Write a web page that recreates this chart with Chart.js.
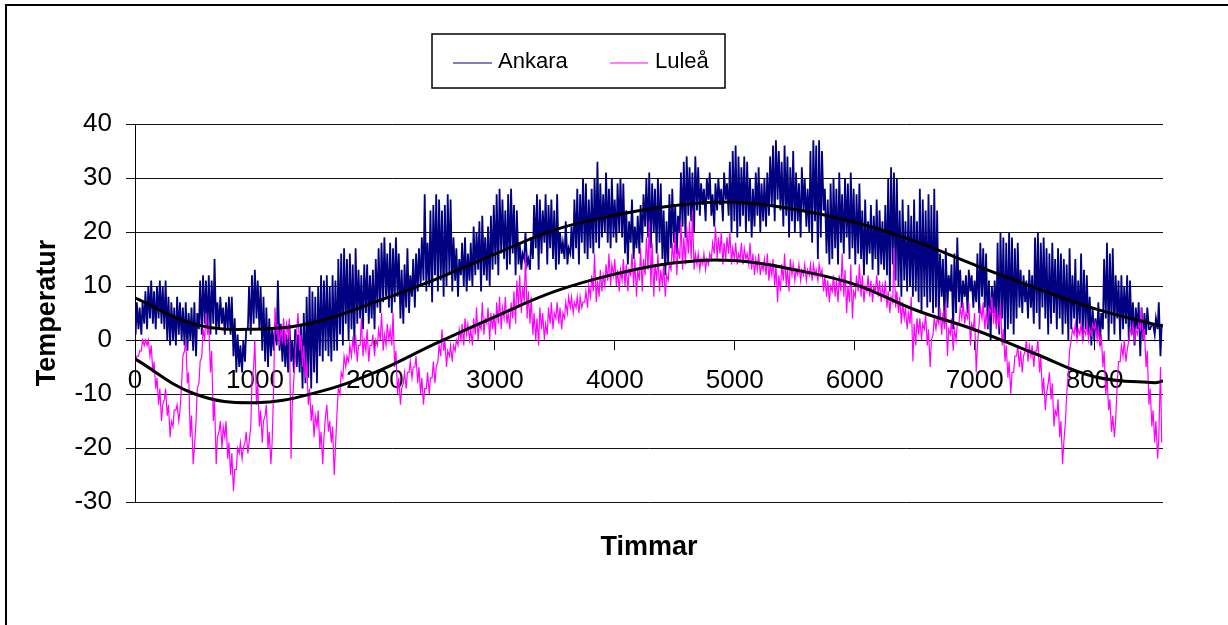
<!DOCTYPE html>
<html>
<head>
<meta charset="utf-8">
<title>Temperatur Ankara och Luleå</title>
<script src="https://cdn.jsdelivr.net/npm/chart.js@4.4.1/dist/chart.umd.min.js"></script>
<style>
  html, body { margin: 0; padding: 0; background: #fff; }
  #wrap { width: 1228px; height: 625px; }
</style>
</head>
<body>
<div id="wrap"><canvas id="tempChart" width="1228" height="625"></canvas></div>
<script>
// one night value (05:00) and one day value (15:00) per day, deg C
var ankaraNight = [
  1, 2, 1, 3, 2, 4, 3, 2, 4, 3,
  2, 0, -1, 0, -1, 1, 0, -1, -2, 0,
  -2, -3, 2, 1, 3, 2, 1, 3, 1, 2,
  3, 1, 2, 1, -3, -6, -5, -6, -4, 2,
  1, 3, 4, 2, -2, -4, -5, -3, -2, -1,
  -2, -4, -5, -6, -4, -6, -5, -6, -9, -8,
  -7, -9, -6, -8, -3, -4, -2, -3, -4, -2,
  -2, 1, -1, 3, 0, 2, -1, 3, 4, 2,
  5, 3, 4, 2, 6, 5, 7, 8, 6, 5,
  7, 8, 4, 3, 6, 5, 8, 6, 9, 10,
  11, 9, 10, 7, 12, 9, 11, 8, 10, 12,
  9, 11, 8, 12, 10, 9, 11, 10, 12, 13,
  9, 12, 11, 10, 13, 14, 12, 16, 15, 13,
  14, 16, 12, 14, 13, 15, 14, 13, 15, 17,
  13, 16, 18, 14, 17, 15, 13, 14, 16, 15,
  14, 16, 15, 17, 14, 18, 16, 15, 17, 16,
  18, 17, 19, 20, 18, 17, 19, 18, 20, 19,
  16, 14, 18, 15, 17, 16, 18, 21, 19, 17,
  20, 16, 18, 15, 12, 14, 17, 18, 16, 20,
  21, 19, 23, 22, 20, 24, 23, 25, 22, 26,
  23, 21, 24, 25, 22, 26, 23, 20, 22, 19,
  21, 23, 20, 22, 19, 21, 23, 20, 22, 21,
  23, 25, 22, 26, 24, 21, 23, 19, 22, 20,
  22, 19, 24, 21, 20, 18, 22, 15, 19, 24,
  16, 14, 15, 17, 14, 18, 16, 19, 15, 17,
  14, 16, 15, 12, 14, 16, 13, 15, 12, 14,
  13, 12, 9, 14, 11, 10, 8, 11, 9, 10,
  8, 9, 7, 5, 8, 6, 7, 5, 6, 4,
  8, 3, 6, 9, 2, 5, 7, 6, 8, 5,
  9, 6, 7, 5, 8, 6, 2, 0, 5, 3,
  1, 4, 0, 2, 3, 1, 4, 6, 5, 7,
  4, 6, 3, 5, 2, 6, 4, 1, 3, 5,
  2, 4, 1, 3, 0, 2, 4, 1, 3, 0,
  2, 1, -1, 0, 1, -1, 2, 4, 0, 3,
  1, 4, 0, 2, 3, 0, 1, -1, 2, -3,
  0, 1, 2, 3, 1, 2, -3
];
var ankaraDay = [
  7, 6, 7, 9, 10, 11, 9, 10, 11, 10,
  11, 8, 7, 6, 8, 7, 6, 7, 5, 6,
  7, 5, 11, 12, 11, 12, 11, 15, 7, 8,
  6, 7, 8, 8, 4, 1, -1, 0, 2, 10,
  12, 13, 11, 10, 8, 6, 4, 2, 3, 11,
  3, 2, 1, 3, 0, 2, 1, 3, 5, 8,
  10, 9, 8, 10, 12, 11, 12, 10, 12, 11,
  15, 16, 17, 15, 16, 14, 17, 13, 12, 14,
  14, 12, 13, 15, 17, 18, 19, 16, 18, 17,
  19, 16, 13, 14, 17, 12, 15, 16, 17, 19,
  27, 18, 24, 25, 27, 26, 24, 25, 27, 26,
  19, 17, 15, 18, 19, 16, 18, 21, 20, 22,
  23, 19, 21, 23, 25, 27, 28, 26, 24, 27,
  28, 25, 24, 18, 16, 20, 15, 19, 25, 27,
  26, 24, 27, 25, 26, 24, 27, 20, 18, 22,
  17, 21, 26, 28, 27, 30, 29, 26, 28, 30,
  33, 29, 27, 31, 28, 30, 26, 29, 30, 29,
  24, 22, 26, 21, 23, 25, 27, 30, 31, 29,
  28, 30, 29, 24, 22, 27, 28, 25, 23, 31,
  33, 34, 32, 31, 34, 32, 29, 28, 30, 31,
  27, 29, 30, 28, 31, 29, 33, 35, 36, 34,
  32, 34, 33, 30, 28, 31, 32, 29, 30, 31,
  34, 36, 37, 35, 33, 36, 34, 32, 35, 31,
  29, 32, 30, 28, 35, 37, 36, 37, 35, 28,
  26, 29, 30, 28, 31, 27, 30, 29, 31, 28,
  27, 29, 24, 26, 22, 25, 23, 26, 24, 22,
  25, 30, 32, 31, 30, 24, 26, 22, 25, 23,
  26, 22, 28, 26, 24, 27, 25, 28, 24, 16,
  15, 17, 12, 14, 16, 19, 13, 11, 12, 13,
  12, 11, 16, 18, 17, 16, 11, 10, 11, 18,
  20, 19, 18, 20, 19, 17, 18, 13, 12, 11,
  13, 12, 19, 20, 18, 19, 17, 16, 18, 15,
  17, 16, 15, 14, 17, 12, 15, 11, 16, 13,
  12, 8, 6, 4, 7, 5, 15, 18, 16, 17,
  12, 11, 12, 10, 12, 11, 7, 6, 7, 6,
  5, 6, 2, 3, 4, 7, 3
];
var luleaNight = [
  -4, -3, -2, -1, -1, -3, -6, -9, -12, -15,
  -11, -14, -18, -16, -13, -15, -8, -2, -8, -18,
  -23, -15, -8, -3, 0, 1, -6, -15, -23, -17,
  -20, -18, -22, -25, -28, -24, -21, -22, -19, -21,
  -16, -5, -12, -16, -19, -14, -20, -23, -8, 1,
  -1, 0, -1, 1, -22, -7, 2, -2, -5, -7,
  -12, -15, -18, -16, -20, -23, -14, -17, -19, -25,
  -13, -10, -7, -5, -4, -3, -2, -4, -1, -3,
  -2, -4, -1, -3, -1, 0, -2, -1, 0, -1,
  -5, -10, -12, -8, -9, -6, -7, -5, -8, -10,
  -12, -9, -10, -7, -8, -4, -3, -2, -5, -3,
  -4, -2, -1, 0, -1, 1, 0, -1, 1, 0,
  2, 1, 3, 0, 2, 1, 3, 2, 4, 3,
  2, 4, 3, 6, 5, 7, 4, 3, 1, 0,
  -1, 2, 0, 1, 3, 2, 4, 3, 2, 4,
  5, 6, 5, 6, 5, 6, 7, 6, 8, 9,
  7, 8, 9, 10, 11, 10, 12, 10, 9, 11,
  10, 9, 12, 10, 8, 11, 9, 12, 13, 10,
  8, 11, 9, 10, 8, 11, 13, 14, 12, 15,
  13, 14, 16, 15, 13, 14, 13, 14, 13, 14,
  15, 16, 15, 16, 14, 15, 16, 14, 15, 14,
  15, 14, 15, 14, 13, 12, 13, 12, 13, 12,
  11, 12, 10, 7, 9, 11, 10, 9, 12, 11,
  12, 11, 12, 11, 12, 11, 12, 11, 12, 9,
  8, 7, 9, 8, 7, 9, 8, 5, 7, 4,
  8, 9, 8, 7, 9, 8, 7, 9, 8, 7,
  8, 6, 5, 7, 6, 5, 3, 4, 2, 3,
  -4, -1, 1, 0, 2, -1, -5, 1, 2, 3,
  1, 2, -3, 1, -2, 0, 3, 4, 3, 4,
  -1, 2, -6, 3, 4, 2, 3, 5, 3, 2,
  3, -1, -4, -7, -10, -6, -3, -5, -6, -2,
  -4, -3, -5, -2, -6, -10, -13, -8, -11, -16,
  -14, -18, -23, -15, -6, 0, 1, 0, 1, 0,
  1, 0, 1, 2, 0, -1, -5, -10, -13, -17,
  -18, -8, -4, -3, -4, 0, 1, 0, 1, 2,
  0, -5, -12, -16, -19, -22, -5
];
var luleaDay = [
  -3, -2, 0, 0, 0, -1, -4, -7, -9, -12,
  -9, -12, -15, -13, -12, -13, -3, 0, -6, -14,
  -20, -9, -4, 2, 5, 3, -2, -11, -18, -15,
  -16, -15, -19, -21, -24, -20, -19, -20, -17, -19,
  -8, 0, -8, -13, -15, -12, -17, -19, 6, 3,
  2, 4, 3, 4, -12, -3, 5, 1, -1, -4,
  -9, -12, -14, -13, -17, -18, -12, -15, -16, -20,
  -9, -6, -3, -3, -1, 0, 1, -1, 4, 0,
  2, -1, 1, 0, 2, 5, 1, 3, 2, 5,
  -2, -7, -9, -6, -6, -4, -5, -3, -5, -7,
  -9, -6, -7, -4, -5, -1, 2, 0, -2, -1,
  -1, 0, 2, 3, 4, 3, 2, 4, 6, 3,
  7, 4, 6, 5, 5, 7, 8, 6, 8, 5,
  7, 9, 11, 12, 10, 16, 9, 8, 5, 4,
  6, 5, 3, 6, 7, 5, 7, 6, 5, 7,
  8, 8, 7, 8, 8, 7, 9, 10, 12, 16,
  11, 13, 12, 14, 16, 14, 15, 13, 13, 15,
  14, 13, 16, 15, 13, 17, 15, 19, 22, 18,
  14, 16, 13, 14, 12, 14, 18, 20, 17, 22,
  19, 21, 22, 24, 16, 16, 15, 16, 15, 16,
  18, 21, 19, 20, 18, 19, 20, 17, 18, 16,
  18, 17, 16, 18, 16, 15, 16, 14, 15, 16,
  14, 15, 14, 12, 14, 16, 13, 15, 14, 13,
  14, 13, 14, 13, 14, 14, 13, 14, 13, 12,
  11, 10, 12, 11, 12, 16, 13, 10, 14, 9,
  12, 14, 12, 10, 12, 11, 10, 12, 11, 10,
  11, 9, 8, 17, 9, 8, 7, 6, 5, 8,
  3, 4, 4, 3, 5, 2, 0, 4, 4, 6,
  5, 7, 2, 4, 2, 3, 6, 7, 5, 7,
  3, 5, -1, 6, 7, 5, 6, 8, 6, 5,
  7, 2, -1, -4, -6, -3, -1, -2, -3, 0,
  -1, -1, -2, 0, -3, -7, -10, -6, -8, -13,
  -11, -15, -19, -10, -2, 2, 3, 2, 3, 2,
  3, 2, 3, 3, 2, 1, -2, -7, -11, -14,
  -15, -4, -1, 0, -2, 2, 3, 2, 3, 6,
  2, -2, -9, -13, -15, -18, -19
];

// trend lines, read every 500 hours
var trendHours = [0, 500, 1000, 1500, 2000, 2500, 3000, 3500, 4000, 4500,
                  5000, 5500, 6000, 6500, 7000, 7500, 8000, 8500, 8570];
var ankaraTrend = [7.8, 2.9, 2.0, 3.3, 7.0, 11.2, 15.9, 20.4, 23.1, 24.9,
                   25.5, 24.2, 21.8, 18.3, 13.9, 9.7, 5.8, 2.9, 2.6];
var luleaTrend = [-3.5, -10.0, -11.6, -9.8, -6.0, -0.7, 4.3, 9.0, 12.2, 14.3,
                  14.7, 13.0, 10.3, 5.6, 1.9, -2.5, -6.8, -7.9, -7.6];

var hourTicks = [0, 1000, 2000, 3000, 4000, 5000, 6000, 7000, 8000];
var hourMax = 8570;
var tempMin = -30;
var tempMax = 40;

var fontFamily = '"Liberation Sans", Arial, Helvetica, sans-serif';

function dailyPoints(night, day) {
  var pts = [];
  var n = Math.min(night.length, day.length);
  for (var d = 0; d < n; d++) {
    pts.push({ x: d * 24 + 5, y: night[d] });
    pts.push({ x: d * 24 + 15, y: day[d] });
  }
  return pts;
}

function trendPoints(values) {
  return trendHours.map(function (h, i) { return { x: h, y: values[i] }; });
}

// border, legend box and x title drawn on top of the chart
var framePlugin = {
  id: 'frame',
  afterDraw: function (chart) {
    var c = chart.ctx;
    var sets = chart.data.datasets;
    c.save();
    c.strokeStyle = '#000';
    c.lineWidth = 2;
    c.beginPath();
    c.moveTo(6, 625);
    c.lineTo(6, 5);
    c.lineTo(1228, 5);
    c.stroke();

    c.lineWidth = 1.5;
    c.strokeRect(432, 34, 293, 54);

    var items = [
      { ds: sets[3], x0: 453, x1: 492, tx: 498 },
      { ds: sets[2], x0: 610, x1: 648, tx: 655 }
    ];
    c.font = '22px ' + fontFamily;
    c.textBaseline = 'middle';
    c.textAlign = 'left';
    items.forEach(function (it) {
      c.strokeStyle = it.ds.borderColor;
      c.lineWidth = 1.2;
      c.beginPath();
      c.moveTo(it.x0, 63);
      c.lineTo(it.x1, 63);
      c.stroke();
      c.fillStyle = '#000';
      c.fillText(it.ds.label, it.tx, 62);
    });

    c.font = 'bold 27px ' + fontFamily;
    c.textAlign = 'center';
    c.fillText('Timmar', (chart.chartArea.left + chart.chartArea.right) / 2, 548);
    c.restore();
  }
};

var ctx = document.getElementById('tempChart').getContext('2d');
var tempChart = new Chart(ctx, {
  type: 'line',
  data: {
    datasets: [
      { label: 'Trend Ankara', data: trendPoints(ankaraTrend), borderColor: '#000', borderWidth: 3, tension: 0.4, pointRadius: 0 },
      { label: 'Trend Luleå', data: trendPoints(luleaTrend), borderColor: '#000', borderWidth: 3, tension: 0.4, pointRadius: 0 },
      { label: 'Luleå', data: dailyPoints(luleaNight, luleaDay), borderColor: '#ff00ff', borderWidth: 1.2, tension: 0, pointRadius: 0 },
      { label: 'Ankara', data: dailyPoints(ankaraNight, ankaraDay), borderColor: '#000080', borderWidth: 1.8, tension: 0, pointRadius: 0 }
    ]
  },
  options: {
    responsive: false,
    animation: false,
    events: [],
    layout: { padding: { left: 27, top: 124, right: 65, bottom: 123 } },
    plugins: {
      legend: { display: false },
      tooltip: { enabled: false }
    },
    scales: {
      x: {
        type: 'linear',
        position: { y: 0 },
        min: 0,
        max: hourMax,
        afterFit: function (scale) { scale.height = 0; },
        afterBuildTicks: function (scale) {
          scale.ticks = hourTicks.map(function (v) { return { value: v }; });
        },
        grid: { drawOnChartArea: false, drawTicks: true, tickLength: 9, color: '#000' },
        border: { display: true, color: '#000', width: 1 },
        ticks: {
          autoSkip: false,
          maxRotation: 0,
          padding: 16,
          color: '#000',
          font: { family: fontFamily, size: 26 },
          callback: function (v) { return String(v); }
        }
      },
      y: {
        min: tempMin,
        max: tempMax,
        afterFit: function (scale) { scale.width = 108; },
        grid: { color: '#111', tickLength: 9 },
        border: { color: '#000', width: 1 },
        ticks: {
          stepSize: 10,
          padding: 14,
          color: '#000',
          font: { family: fontFamily, size: 26 },
          callback: function (v) { return String(v); }
        },
        title: {
          display: true,
          text: 'Temperatur',
          color: '#000',
          font: { family: fontFamily, size: 27, weight: 'bold' }
        }
      }
    }
  },
  plugins: [framePlugin]
});
</script>
</body>
</html>
